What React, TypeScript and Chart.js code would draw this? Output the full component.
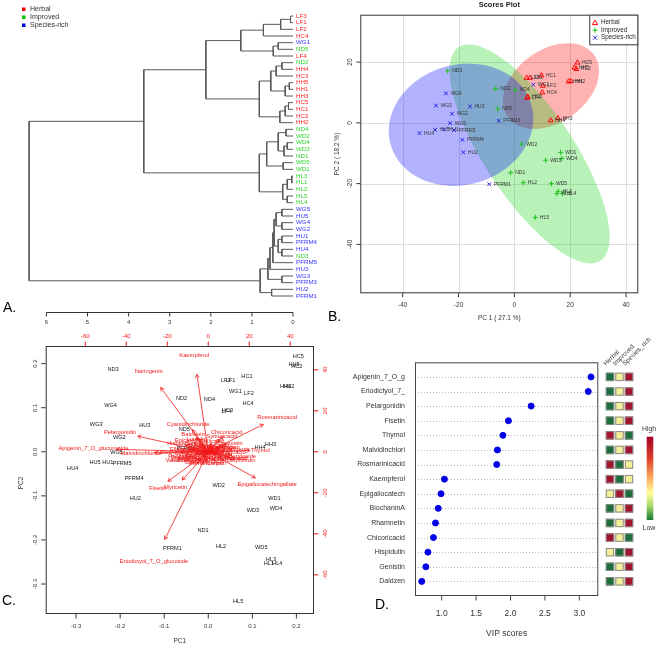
import React, { useEffect, useRef } from 'react';
import { Chart, registerables } from 'chart.js';
Chart.register(...registerables);

const FONT = '"Liberation Sans", Arial, Helvetica, sans-serif';

/* ---------------- shared sample data ---------------- */
const GROUP_NAMES = ['Herbal', 'Improved', 'Species-rich'];
const GROUP_PREFIXES = [['HC', 'HH', 'LF'], ['HL', 'ND', 'WD'], ['HU', 'PFRM', 'WG']];

const SAMPLE_NAMES = ['HC1', 'HC2', 'HC3', 'HC4', 'HC5', 'HH1', 'HH2', 'HH3', 'HH4', 'HH5', 'LF1', 'LF2', 'LF3', 'LF4',
  'HL1', 'HL2', 'HL3', 'HL4', 'HL5', 'ND1', 'ND2', 'ND3', 'ND4', 'ND5', 'WD1', 'WD2', 'WD3', 'WD4', 'WD5',
  'HU1', 'HU2', 'HU3', 'HU4', 'HU5', 'PFRM1', 'PFRM3', 'PFRM4', 'PFRM5', 'WG1', 'WG2', 'WG3', 'WG4', 'WG5'];
const PC1_SCORES = [9.7, 22.2, 4.8, 10.0, 22.6, 19.4, 20.2, 15.6, 13.0, 21.5, 5.6, 10.2, 4.4, 4.6,
  15.2, 3.2, 15.7, 17.3, 7.5, -1.3, -6.7, -23.9, 0.3, -6.0, 16.6, 2.6, 11.2, 17.0, 13.3,
  -25.2, -18.3, -15.9, -34.0, -28.4, -9.0, -5.6, -18.6, -21.6, 6.8, -22.3, -28.1, -24.5, -23.0];
const PC2_SCORES = [15.6, 17.7, 8.5, 10.0, 19.8, 13.6, 13.7, 1.5, 0.8, 18.2, 14.8, 12.2, 14.8, 8.3,
  -23.3, -19.7, -22.5, -23.3, -31.1, -16.4, 11.2, 17.1, 10.8, 4.6, -9.7, -7.0, -12.3, -11.7, -20.0,
  -2.2, -9.7, 5.4, -3.4, -2.3, -20.2, 0.7, -5.6, -2.4, 12.6, 3.0, 5.7, 9.7, -0.1];

function groupOf(name: string): number {
  for (let g = 0; g < GROUP_PREFIXES.length; g++) {
    if (GROUP_PREFIXES[g].some((p) => name.startsWith(p))) return g;
  }
  return 0;
}

/* ---------------- A: dendrogram ---------------- */
const LEAF_ORDER = ['LF3', 'LF1', 'LF2', 'HC4', 'WG1', 'ND5', 'LF4', 'ND2', 'HH4', 'HC3', 'HH5', 'HH1', 'HH3', 'HC5',
  'HC1', 'HC2', 'HH2', 'ND4', 'WD2', 'WD4', 'WD3', 'ND1', 'WD5', 'WD1', 'HL3', 'HL1', 'HL2', 'HL5', 'HL4',
  'WG5', 'HU5', 'WG4', 'WG2', 'HU1', 'PFRM4', 'HU4', 'ND3', 'PFRM5', 'HU3', 'WG3', 'PFRM3', 'HU2', 'PFRM1'];
// [left, right, height]; strings are leaves, numbers refer to earlier merges
const MERGES: [string | number, string | number, number][] = [
  ['LF3', 'LF1', 0.06], [0, 'LF2', 0.30], [1, 'HC4', 0.72], ['WG1', 'ND5', 0.36], [3, 'LF4', 0.48], [2, 4, 1.27],
  ['ND2', 'HH4', 0.27], [6, 'HC3', 0.41], ['HH5', 'HH1', 0.09], [8, 'HH3', 0.19], [7, 9, 0.54],
  ['HC5', 'HC1', 0.11], [11, 'HC2', 0.19], [12, 'HH2', 0.32], [10, 13, 0.82], [5, 14, 2.12],
  ['ND4', 'WD2', 0.17], ['WD4', 'WD3', 0.14], [17, 'ND1', 0.22], [16, 18, 0.36], ['WD5', 'WD1', 0.24], [19, 20, 0.64],
  ['HL3', 'HL1', 0.03], [22, 'HL2', 0.14], ['HL5', 'HL4', 0.14], [23, 24, 0.25], [21, 25, 0.82], [15, 26, 3.63],
  ['WG5', 'HU5', 0.27], ['WG4', 'WG2', 0.27], [28, 29, 0.41], ['HU1', 'PFRM4', 0.27], ['HU4', 'ND3', 0.27], [31, 32, 0.36],
  [30, 33, 0.46], [34, 'PFRM5', 0.49], [35, 'HU3', 0.56], ['WG3', 'PFRM3', 0.27], [36, 37, 0.61], ['HU2', 'PFRM1', 0.52],
  [38, 39, 0.80], [27, 40, 6.42],
];
const HEIGHT_TICKS = [0, 1, 2, 3, 4, 5, 6];
const LEAF_COLORS = ['#ff2424', '#2ed62e', '#3434ff'];
const LEGEND_COLORS = ['#ee0000', '#00c400', '#0000dd'];

/* ---------------- B: scores plot ---------------- */
const B_X_TICKS = [-40, -20, 0, 20, 40];
const B_Y_TICKS = [-40, -20, 0, 20];
const POINT_COLORS = ['#ff0000', '#1fc21f', '#2020e8'];
const ELLIPSE_FILLS = ['rgba(255,0,0,0.30)', 'rgba(0,210,0,0.28)', 'rgba(0,0,255,0.30)'];

/* ---------------- C: biplot ---------------- */
const BIPLOT_SCALE = [0.00905, 0.0109]; // score scaling of PC1 / PC2 used by the biplot
const C_TICKS = [-0.3, -0.2, -0.1, 0.0, 0.1, 0.2];
const LOADING_TICKS = [-60, -40, -20, 0, 20, 40];
const ARROW_FRACTION = 0.8;
const LOADING_NAMES = ['Kaempferol', 'Naringenin', 'Rosmarinicacid', 'Pelargonidin', 'Apigenin_7_O_glucuronide',
  'Malvidinchloride', 'Chicoricacid', 'Cyanidinchloride', 'Thymol', 'Hesperidoside', 'Epigallocatechingallate',
  'Fisetin', 'Myricetin', 'Eriodictyol_7_O_glucoside',
  'Baicalein', 'Luteolin', 'Hispidulin', 'Daidzen', 'Genistin', 'BiochaninA', 'Rhamnetin', 'Quercetin', 'Apigenin',
  'Rutin', 'Catechin', 'Epigallocatechin', 'Chlorogenicacid', 'Caffeicacid', 'Ferulicacid', 'Coumaricacid',
  'Gallicacid', 'Vanillicacid', 'Syringicacid', 'Isorhamnetin', 'Epicatechin', 'Genistein',
  'Naringin', 'Hesperidin', 'Cinnamicacid', 'Sinapicacid', 'Protocatechuicacid', 'Carnosicacid', 'Ellagicacid',
  'Morin', 'Galangin', 'Chrysin', 'Formononetin', 'Glycitein', 'Taxifolin', 'Delphinidin', 'Peonidin', 'Petunidin'];
const LOADING_X = [-6.9, -29.0, 33.6, -43.0, -56.0, -32.7, 9.0, -9.8, 25.4, 14.3, 28.7, -24.6, -15.9, -26.5,
  -7.4, -5.7, -13.9, -4.1, -10.0, -16.4, 6.7, 10.7, 14.6, 3.3, -6.0, -4.1, 8.2, 0.8, -11.4, 9.7, 1.8, -13.9, 6.7, -1.6, -9.0, 3.0,
  -2.0, 5.0, -8.0, 12.0, -3.0, 2.0, -12.0, 7.0, -6.0, 4.0, -9.0, 10.0, -1.0, 16.0, -14.0, 0.0];
const LOADING_Y = [47.2, 39.2, 16.7, 9.5, 1.5, -0.6, 9.3, 13.5, 0.8, -2.0, -15.9, -18.0, -17.2, -53.4,
  8.6, 6.2, 4.1, 2.8, 1.3, -0.1, 2.3, 4.3, 1.3, -0.1, -5.1, -2.6, -3.1, -4.6, -2.6, -0.1, 5.3, -4.1, 7.7, -5.6, 5.7, 2.0,
  1.0, -1.5, -1.0, -3.0, -3.5, 3.0, 1.0, 0.5, 3.5, -5.5, -4.0, 2.0, -1.0, -4.0, -2.0, 1.5];
const LOADING_RED = '#f01818';

/* ---------------- D: VIP scores ---------------- */
const VIP_FEATURES = ['Apigenin_7_O_g', 'Eriodictyol_7_', 'Pelargonidin', 'Fisetin', 'Thymol', 'Malvidinchlori',
  'Rosmarinicacid', 'Kaempferol', 'Epigallocatech', 'BiochaninA', 'Rhamnetin', 'Chicoricacid', 'Hispidulin', 'Genistin', 'Daidzen'];
const VIP_SCORES = [3.17, 3.13, 2.30, 1.97, 1.89, 1.81, 1.80, 1.04, 0.99, 0.95, 0.91, 0.88, 0.80, 0.77, 0.71];
const VIP_TICKS = [1.0, 1.5, 2.0, 2.5, 3.0];
const HEAT_COLUMNS = ['Herbal', 'Improved', 'Species_rich'];
const HEAT_HERBAL = [1, 1, 1, 1, 3, 1, 3, 3, 2, 1, 1, 3, 2, 1, 1];
const HEAT_IMPROVED = [2, 2, 2, 2, 2, 2, 1, 1, 3, 2, 2, 2, 1, 2, 2];
const HEAT_SPECIES = [3, 3, 3, 3, 1, 3, 2, 2, 1, 3, 3, 1, 3, 3, 3];
const HEAT_COLORS = ['#ffffff', '#1c6f3a', '#f4ef98', '#a3142d'];

/* ---------------- helpers ---------------- */
function text(ctx: any, s: string, x: number, y: number, size: number, color: string,
  align = 'center', baseline = 'middle', rot = 0, bold = false) {
  ctx.save();
  ctx.translate(x, y);
  if (rot) ctx.rotate(rot);
  ctx.font = `${bold ? 'bold ' : ''}${size}px ${FONT}`;
  ctx.fillStyle = color;
  ctx.textAlign = align;
  ctx.textBaseline = baseline;
  ctx.fillText(s, 0, 0);
  ctx.restore();
}
function seg(ctx: any, x1: number, y1: number, x2: number, y2: number) {
  ctx.beginPath();
  ctx.moveTo(x1, y1);
  ctx.lineTo(x2, y2);
  ctx.stroke();
}
function fmt1(v: number) { return v.toFixed(1); }

function ellipsePoints(xs: number[], ys: number[]) {
  const n = xs.length;
  const mx = xs.reduce((a, b) => a + b, 0) / n;
  const my = ys.reduce((a, b) => a + b, 0) / n;
  let sxx = 0, syy = 0, sxy = 0;
  for (let i = 0; i < n; i++) {
    sxx += (xs[i] - mx) ** 2; syy += (ys[i] - my) ** 2; sxy += (xs[i] - mx) * (ys[i] - my);
  }
  sxx /= n - 1; syy /= n - 1; sxy /= n - 1;
  const sx = Math.sqrt(sxx), sy = Math.sqrt(syy);
  const d = Math.acos(sxy / (sx * sy));
  const t = Math.sqrt(5.991465); // 95% level, 2 df
  const pts: [number, number][] = [];
  for (let k = 0; k <= 100; k++) {
    const a = -Math.PI + (2 * Math.PI * k) / 100;
    pts.push([mx + t * sx * Math.cos(a + d / 2), my + t * sy * Math.cos(a - d / 2)]);
  }
  return pts;
}

const baseOptions = {
  responsive: false,
  animation: false as const,
  devicePixelRatio: 1,
  events: [] as any[],
  plugins: { legend: { display: false }, tooltip: { enabled: false }, title: { display: false } },
};

/* ---------------- chart configs ---------------- */
function buildDendrogram() {
  const pos = new Map<string, number>();
  LEAF_ORDER.forEach((n, i) => pos.set(n, i));
  const nodes: { y: number; h: number }[] = [];
  const get = (r: string | number) => (typeof r === 'string' ? { y: pos.get(r) as number, h: 0 } : nodes[r]);
  const datasets: any[] = [];
  MERGES.forEach(([a, b, h]) => {
    const A = get(a), B = get(b);
    datasets.push({
      data: [{ x: A.h, y: A.y }, { x: h, y: A.y }, { x: h, y: B.y }, { x: B.h, y: B.y }],
      showLine: true, pointRadius: 0, borderColor: '#585858', borderWidth: 1, clip: false, tension: 0,
    });
    nodes.push({ y: (A.y + B.y) / 2, h });
  });
  const plugin = {
    id: 'dendroDecor',
    afterDatasetsDraw(chart: any) {
      const { ctx, scales: { x, y } } = chart;
      const x0 = x.getPixelForValue(0);
      LEAF_ORDER.forEach((n, i) => text(ctx, n, x0 + 3, y.getPixelForValue(i), 6.2, LEAF_COLORS[groupOf(n)], 'left'));
      GROUP_NAMES.forEach((g, i) => {
        ctx.fillStyle = LEGEND_COLORS[i];
        ctx.fillRect(22, 7.5 + 8 * i, 3.5, 3.5);
        text(ctx, g, 30, 9.5 + 8 * i, 7, '#333', 'left');
      });
      const ay = 312.5;
      ctx.strokeStyle = '#333';
      ctx.lineWidth = 1;
      const xa = x.getPixelForValue(HEIGHT_TICKS[HEIGHT_TICKS.length - 1]);
      const xb = x.getPixelForValue(HEIGHT_TICKS[0]);
      seg(ctx, xa, ay, xb, ay);
      HEIGHT_TICKS.forEach((t) => {
        const px = x.getPixelForValue(t);
        seg(ctx, px, ay, px, ay + 4);
        text(ctx, String(t), px, 322.7, 6, '#333');
      });
      text(ctx, 'A.', 3, 312, 14, '#000', 'left', 'alphabetic');
    },
  };
  return {
    type: 'scatter',
    data: { datasets },
    options: {
      ...baseOptions,
      layout: { padding: { left: 21.74, right: 37, top: 16, bottom: 34 } },
      scales: {
        x: { type: 'linear', min: 0, max: 6.6, reverse: true, display: false },
        y: { type: 'linear', min: 0, max: 42, reverse: true, display: false },
      },
    },
    plugins: [plugin],
  };
}

function buildScores() {
  const styles = ['triangle', 'cross', 'crossRot'];
  const datasets = GROUP_NAMES.map((g, gi) => ({
    label: g,
    data: SAMPLE_NAMES.map((n, i) => ({ n, i })).filter((o) => groupOf(o.n) === gi)
      .map((o) => ({ x: PC1_SCORES[o.i], y: PC2_SCORES[o.i] })),
    pointStyle: styles[gi], pointRadius: gi === 0 ? 2.8 : 2.6, borderColor: POINT_COLORS[gi],
    backgroundColor: 'rgba(0,0,0,0)', borderWidth: 1, clip: false,
  }));
  const plugin = {
    id: 'scoresDecor',
    beforeDatasetsDraw(chart: any) {
      const { ctx, chartArea: a, scales: { x, y } } = chart;
      ctx.save();
      ctx.beginPath();
      ctx.rect(a.left, a.top, a.right - a.left, a.bottom - a.top);
      ctx.clip();
      ctx.strokeStyle = '#dedede';
      ctx.lineWidth = 1;
      B_X_TICKS.forEach((v) => { const p = Math.round(x.getPixelForValue(v)) + 0.5; seg(ctx, p, a.top, p, a.bottom); });
      B_Y_TICKS.forEach((v) => { const p = Math.round(y.getPixelForValue(v)) + 0.5; seg(ctx, a.left, p, a.right, p); });
      GROUP_NAMES.forEach((g, gi) => {
        const idx = SAMPLE_NAMES.map((n, i) => i).filter((i) => groupOf(SAMPLE_NAMES[i]) === gi);
        const pts = ellipsePoints(idx.map((i) => PC1_SCORES[i]), idx.map((i) => PC2_SCORES[i]));
        ctx.beginPath();
        pts.forEach(([px, py], k) => {
          const X = x.getPixelForValue(px), Y = y.getPixelForValue(py);
          if (k) ctx.lineTo(X, Y); else ctx.moveTo(X, Y);
        });
        ctx.closePath();
        ctx.fillStyle = ELLIPSE_FILLS[gi];
        ctx.fill();
      });
      ctx.restore();
    },
    afterDatasetsDraw(chart: any) {
      const { ctx, chartArea: a, scales: { x, y } } = chart;
      SAMPLE_NAMES.forEach((n, i) => {
        text(ctx, n, x.getPixelForValue(PC1_SCORES[i]) + 4.5, y.getPixelForValue(PC2_SCORES[i]), 5, '#333', 'left');
      });
      ctx.strokeStyle = '#333';
      ctx.lineWidth = 1;
      ctx.strokeRect(a.left + 0.5, a.top + 0.5, a.right - a.left - 1, a.bottom - a.top - 1);
      B_X_TICKS.forEach((v) => {
        const p = x.getPixelForValue(v);
        seg(ctx, p, a.bottom, p, a.bottom + 4);
        text(ctx, String(v), p, 305.7, 6.5, '#333');
      });
      B_Y_TICKS.forEach((v) => {
        const p = y.getPixelForValue(v);
        seg(ctx, a.left, p, a.left - 4, p);
        text(ctx, String(v), 50, p, 6.5, '#333', 'center', 'middle', -Math.PI / 2);
      });
      text(ctx, 'PC 1 ( 27.1 %)', (a.left + a.right) / 2, 318, 6.5, '#333');
      text(ctx, 'PC 2 ( 18.2 %)', 37, (a.top + a.bottom) / 2, 6.5, '#333', 'center', 'middle', -Math.PI / 2);
      text(ctx, 'Scores Plot', (a.left + a.right) / 2, 5, 7.5, '#222', 'center', 'middle', 0, true);
      // legend
      const lx = 289.3, ly = a.top;
      ctx.fillStyle = '#fff';
      ctx.fillRect(lx, ly, a.right - lx, 29.6);
      ctx.strokeRect(lx + 0.5, ly + 0.5, a.right - lx - 1, 29.6);
      GROUP_NAMES.forEach((g, gi) => {
        const cy = ly + 8 + gi * 7.5, cx = 295;
        ctx.strokeStyle = POINT_COLORS[gi];
        ctx.beginPath();
        if (gi === 0) {
          ctx.moveTo(cx, cy - 2.6); ctx.lineTo(cx + 2.6, cy + 1.9); ctx.lineTo(cx - 2.6, cy + 1.9); ctx.closePath();
        } else if (gi === 1) {
          ctx.moveTo(cx - 2.6, cy); ctx.lineTo(cx + 2.6, cy); ctx.moveTo(cx, cy - 2.6); ctx.lineTo(cx, cy + 2.6);
        } else {
          ctx.moveTo(cx - 2, cy - 2); ctx.lineTo(cx + 2, cy + 2); ctx.moveTo(cx + 2, cy - 2); ctx.lineTo(cx - 2, cy + 2);
        }
        ctx.stroke();
        text(ctx, g, 301, cy, 6.3, '#222', 'left');
      });
      text(ctx, 'B.', 28, 321, 14, '#000', 'left', 'alphabetic');
    },
  };
  return {
    type: 'scatter',
    data: { datasets },
    options: {
      ...baseOptions,
      layout: { padding: { left: 60.3, right: 21.7, top: 14.7, bottom: 36.7 } },
      scales: {
        x: { type: 'linear', min: -55.2, max: 44.4, display: false },
        y: { type: 'linear', min: -56.1, max: 35.6, display: false },
      },
    },
    plugins: [plugin],
  };
}

function buildBiplot() {
  const datasets = LOADING_NAMES.map((n, i) => ({
    data: [{ x: 0, y: 0 }, { x: LOADING_X[i] * ARROW_FRACTION, y: LOADING_Y[i] * ARROW_FRACTION }],
    showLine: true, pointRadius: 0, borderColor: LOADING_RED, borderWidth: 0.8,
    xAxisID: 'x2', yAxisID: 'y2', clip: false,
  }));
  const plugin = {
    id: 'biplotDecor',
    beforeDatasetsDraw(chart: any) {
      const { ctx, scales: { x, y } } = chart;
      SAMPLE_NAMES.forEach((n, i) => {
        text(ctx, n, x.getPixelForValue(PC1_SCORES[i] * BIPLOT_SCALE[0]),
          y.getPixelForValue(PC2_SCORES[i] * BIPLOT_SCALE[1]), 5.6, '#151515');
      });
    },
    afterDatasetsDraw(chart: any) {
      const { ctx, chartArea: a, scales: { x, y, x2, y2 } } = chart;
      const ox = x2.getPixelForValue(0), oy = y2.getPixelForValue(0);
      ctx.strokeStyle = LOADING_RED;
      ctx.lineWidth = 0.8;
      LOADING_NAMES.forEach((n, i) => {
        const tx = x2.getPixelForValue(LOADING_X[i] * ARROW_FRACTION);
        const ty = y2.getPixelForValue(LOADING_Y[i] * ARROW_FRACTION);
        if (Math.hypot(tx - ox, ty - oy) < 0.5) return;
        const ang = Math.atan2(ty - oy, tx - ox);
        const L = 4;
        ctx.beginPath();
        ctx.moveTo(tx - L * Math.cos(ang - Math.PI / 6), ty - L * Math.sin(ang - Math.PI / 6));
        ctx.lineTo(tx, ty);
        ctx.lineTo(tx - L * Math.cos(ang + Math.PI / 6), ty - L * Math.sin(ang + Math.PI / 6));
        ctx.stroke();
      });
      LOADING_NAMES.forEach((n, i) => {
        text(ctx, n, x2.getPixelForValue(LOADING_X[i]), y2.getPixelForValue(LOADING_Y[i]), 5.8, LOADING_RED);
      });
      ctx.strokeStyle = '#333';
      ctx.lineWidth = 1;
      ctx.strokeRect(a.left + 0.5, a.top + 0.5, a.right - a.left - 1, a.bottom - a.top - 1);
      C_TICKS.forEach((v) => {
        const px = x.getPixelForValue(v);
        seg(ctx, px, a.bottom, px, a.bottom + 4.5);
        text(ctx, fmt1(v), px, 321.7, 6, '#333');
        const py = y.getPixelForValue(v);
        seg(ctx, a.left, py, a.left - 4.5, py);
        text(ctx, fmt1(v), 35, py, 6, '#333', 'center', 'middle', -Math.PI / 2);
      });
      ctx.strokeStyle = LOADING_RED;
      LOADING_TICKS.forEach((v) => {
        const px = x2.getPixelForValue(v);
        seg(ctx, px, a.top, px, a.top - 4.5);
        text(ctx, String(v), px, 31, 6, LOADING_RED);
        const py = y2.getPixelForValue(v);
        seg(ctx, a.right, py, a.right + 4.5, py);
        text(ctx, String(v), 325, py, 6, LOADING_RED, 'center', 'middle', -Math.PI / 2);
      });
      text(ctx, 'PC1', (a.left + a.right) / 2, 336.5, 6.5, '#333');
      text(ctx, 'PC2', 21, 178, 6.5, '#333', 'center', 'middle', -Math.PI / 2);
      text(ctx, 'C.', 2, 300, 14, '#000', 'left', 'alphabetic');
    },
  };
  return {
    type: 'scatter',
    data: { datasets },
    options: {
      ...baseOptions,
      layout: { padding: { left: 45.7, right: 21, top: 41, bottom: 32 } },
      scales: {
        x: { type: 'linear', position: 'bottom', min: -0.369, max: 0.240, display: false },
        y: { type: 'linear', position: 'left', min: -0.368, max: 0.240, display: false },
        x2: { type: 'linear', position: 'top', min: -79.3, max: 51.6, display: false },
        y2: { type: 'linear', position: 'right', min: -79.1, max: 51.6, display: false },
      },
    },
    plugins: [plugin],
  };
}

function buildVip() {
  const rowY = (i: number) => VIP_FEATURES.length - i;
  const heatCols = [HEAT_HERBAL, HEAT_IMPROVED, HEAT_SPECIES];
  const datasets = [
    {
      data: VIP_SCORES.map((v, i) => ({ x: v, y: rowY(i) })),
      pointRadius: 3, backgroundColor: '#0000e6', borderColor: '#0000e6', borderWidth: 1, clip: false,
    },
  ];
  const plugin = {
    id: 'vipDecor',
    beforeDatasetsDraw(chart: any) {
      const { ctx, chartArea: a, scales: { y } } = chart;
      ctx.save();
      ctx.strokeStyle = '#b8b8b8';
      ctx.lineWidth = 1;
      ctx.setLineDash([1, 2]);
      VIP_FEATURES.forEach((f, i) => {
        const p = Math.round(y.getPixelForValue(rowY(i))) + 0.5;
        seg(ctx, a.left, p, a.right, p);
      });
      ctx.restore();
    },
    afterDatasetsDraw(chart: any) {
      const { ctx, chartArea: a, scales: { x, y, xh } } = chart;
      ctx.strokeStyle = '#444';
      ctx.lineWidth = 1;
      ctx.strokeRect(a.left + 0.5, a.top + 0.5, a.right - a.left - 1, a.bottom - a.top - 1);
      VIP_TICKS.forEach((v) => {
        const p = x.getPixelForValue(v);
        seg(ctx, p, a.bottom, p, a.bottom + 4.5);
        text(ctx, fmt1(v), p, 293.3, 8.5, '#333');
      });
      text(ctx, 'VIP scores', (a.left + a.right) / 2, 313.3, 8.5, '#333');
      VIP_FEATURES.forEach((f, i) => text(ctx, f, 70, y.getPixelForValue(rowY(i)), 7, '#333', 'right'));
      // heat map of group levels
      const s = 8.4;
      heatCols.forEach((col, c) => col.forEach((lv, i) => {
        const cx = xh.getPixelForValue(c), cy = y.getPixelForValue(rowY(i));
        ctx.fillStyle = HEAT_COLORS[lv];
        ctx.fillRect(cx - s / 2, cy - s / 2, s, s);
        ctx.strokeStyle = '#8a8a8a';
        ctx.strokeRect(cx - s / 2 + 0.5, cy - s / 2 + 0.5, s - 1, s - 1);
      }));
      HEAT_COLUMNS.forEach((h, c) => {
        text(ctx, h, xh.getPixelForValue(c) - 4, 46, 6.5, '#333', 'left', 'alphabetic', -Math.PI / 4);
      });
      // colour key
      const g = ctx.createLinearGradient(0, 116.7, 0, 200);
      g.addColorStop(0, '#a50026');
      g.addColorStop(0.28, '#e0442b');
      g.addColorStop(0.5, '#fdae61');
      g.addColorStop(0.68, '#ffff99');
      g.addColorStop(0.83, '#a6d96a');
      g.addColorStop(1, '#1a7a37');
      ctx.fillStyle = g;
      ctx.fillRect(311.7, 116.7, 6.6, 83.3);
      text(ctx, 'High', 314, 109, 6.8, '#333');
      text(ctx, 'Low', 314, 208, 7, '#333');
      text(ctx, 'D.', 40, 289, 14, '#000', 'left', 'alphabetic');
    },
  };
  return {
    type: 'scatter',
    data: { datasets },
    options: {
      ...baseOptions,
      layout: { padding: { left: 80, right: 61.7, top: 42.3, bottom: 50 } },
      scales: {
        x: { type: 'linear', position: 'bottom', min: 0.612, max: 3.276, display: false },
        xh: { type: 'linear', position: 'bottom', min: -20.526, max: -1.231, display: false },
        y: { type: 'linear', min: 0, max: 16, display: false },
      },
    },
    plugins: [plugin],
  };
}

function ChartCanvas({ left, top, width, height, build }: { left: number; top: number; width: number; height: number; build: () => any }) {
  const ref = useRef<HTMLCanvasElement>(null);
  useEffect(() => {
    const chart = new Chart(ref.current as HTMLCanvasElement, build());
    return () => chart.destroy();
  }, []);
  return (
    <canvas ref={ref} width={width} height={height}
      style={{ position: 'absolute', left, top, width, height, display: 'block' }} />
  );
}

export default function App() {
  return (
    <div style={{ position: 'absolute', left: 0, top: 0, width: 660, height: 646, background: '#fff', overflow: 'hidden' }}>
      <ChartCanvas left={0} top={0} width={330} height={330} build={buildDendrogram} />
      <ChartCanvas left={300} top={0} width={360} height={330} build={buildScores} />
      <ChartCanvas left={0} top={305} width={335} height={341} build={buildBiplot} />
      <ChartCanvas left={335} top={320} width={325} height={326} build={buildVip} />
    </div>
  );
}
